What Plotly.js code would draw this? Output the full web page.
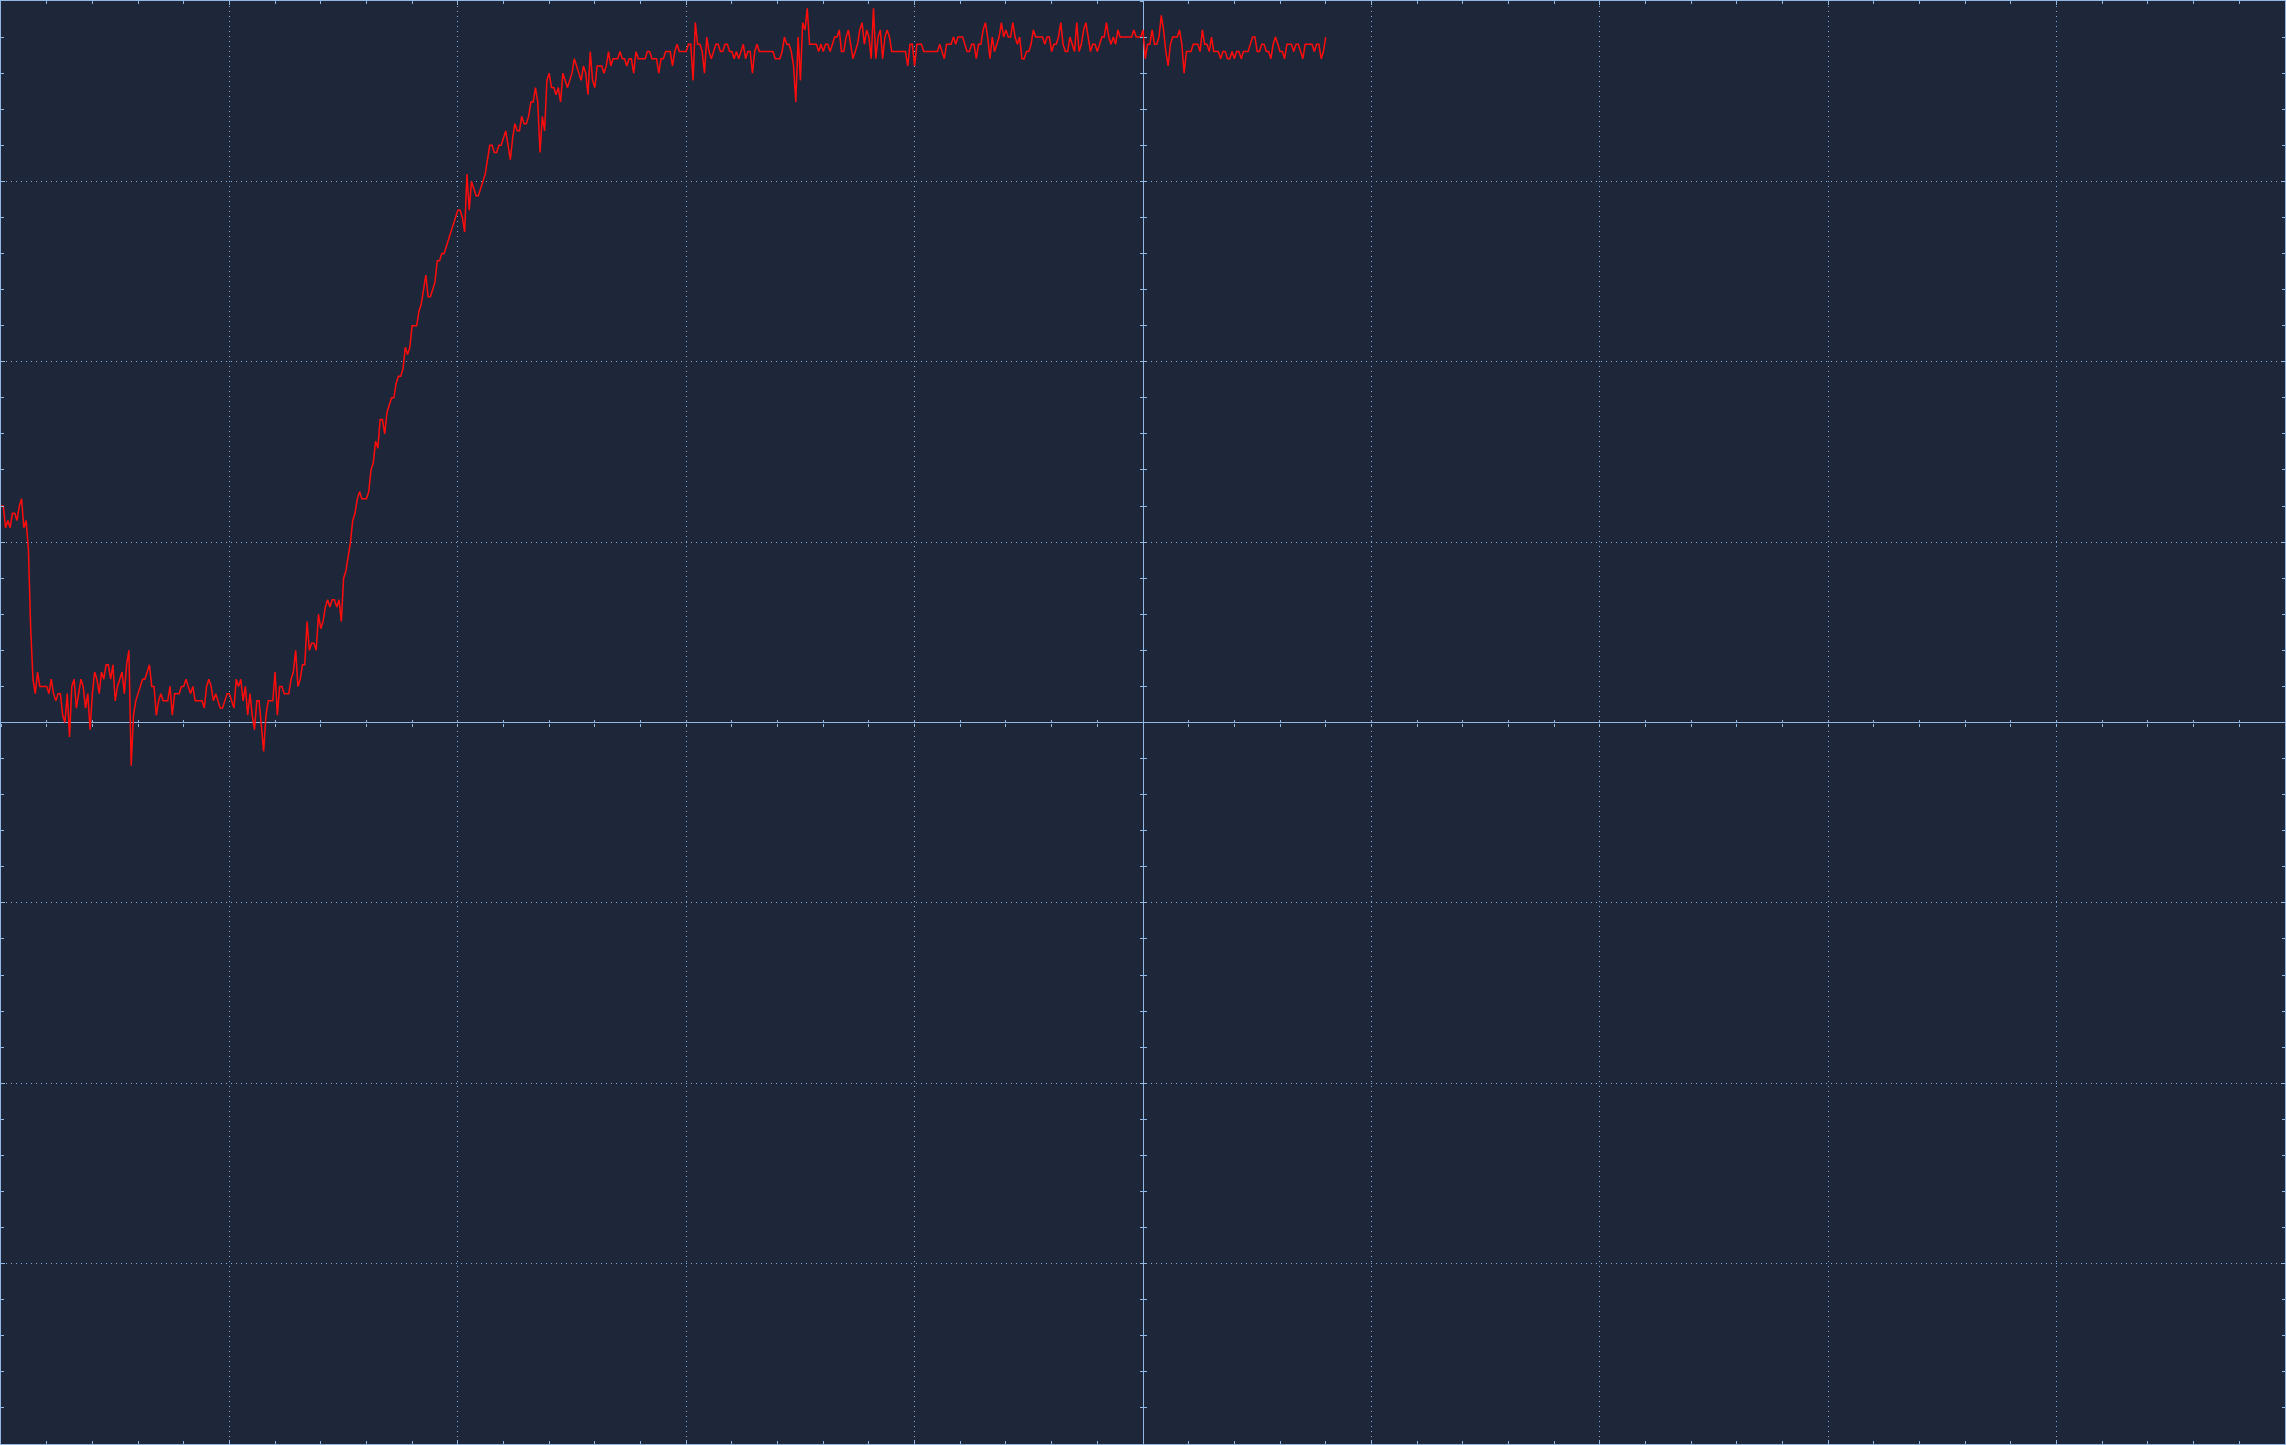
<!DOCTYPE html>
<html>
<head>
<meta charset="utf-8">
<script src="https://cdn.plot.ly/plotly-3.0.1.min.js"></script>
<style>
html,body{margin:0;padding:0;background:#1d2739;overflow:hidden}
#chart{width:2286px;height:1445px}
</style>
</head>
<body>
<div id="chart"></div>
<script>
// ADC sample values (counts, 25 counts per vertical division)
const sampleCounts = [
30,30,27,28,27,29,29,28,30,31,27,28,24,13,6,
4,7,5,5,5,5,4,6,4,3,4,4,1,0,4,
-2,5,6,2,4,6,5,2,4,-1,4,7,6,4,7,
6,8,8,6,8,3,5,6,7,4,8,10,-6,1,3,
4,5,6,6,7,8,5,5,1,3,4,3,3,3,5,
1,4,4,4,5,5,6,5,4,5,3,3,3,3,2,
5,6,5,3,4,3,2,2,3,4,4,3,2,6,5,
6,3,5,1,4,1,-1,3,3,-1,-4,1,3,3,3,
7,1,5,5,4,4,4,6,7,10,5,6,8,8,14,
10,11,11,10,15,13,14,16,17,16,17,17,16,17,14,
20,21,23,25,28,29,31,32,31,31,31,32,35,36,
39,38,42,42,40,43,44,45,45,47,48,48,49,52,51,52,55,55,55,57,58,
60,62,59,59,60,61,64,64,65,65,66,67,68,69,70,
71,71,70,68,76,71,75,74,73,73,74,75,76,78,80,
80,79,79,80,80,81,82,80,78,81,83,82,82,84,83,
83,84,86,86,88,86,79,84,82,89,90,88,88,87,88,
86,90,89,88,89,90,92,91,90,89,91,90,87,93,89,
88,91,91,91,90,91,93,91,92,92,92,93,92,92,91,
92,92,90,93,92,92,92,92,93,93,92,92,92,90,92,
92,93,93,93,91,93,94,93,
93,93,93,94,94,89,97,94,94,93,90,95,93,92,93,
94,94,93,93,94,94,93,93,92,93,92,93,94,92,93,
93,90,93,94,93,93,93,93,93,93,93,92,92,92,93,
95,94,94,93,91,86,95,89,97,96,99,94,94,94,94,
93,94,93,94,94,93,94,95,95,96,93,93,95,96,94,
92,93,94,96,97,94,96,95,92,99,92,95,96,92,95,
96,95,93,93,93,93,93,93,93,91,94,94,91,94,94,
94,93,93,93,93,93,93,93,94,93,92,94,94,94,95,
94,95,95,95,94,93,93,94,94,92,94,94,96,97,95,
92,95,93,94,95,97,95,96,95,95,97,95,94,95,92,
92,93,93,94,96,95,95,95,95,94,95,95,93,94,94,
95,97,94,93,93,95,94,93,97,93,94,96,97,95,93,
94,94,93,94,
95,95,97,95,94,95,94,96,95,95,95,95,95,95,96,
95,95,95,96,92,94,94,96,94,94,95,98,96,93,91,
94,95,95,95,96,94,90,93,93,93,94,94,94,93,96,
94,94,93,95,93,93,93,92,93,93,92,92,93,92,93,
93,92,93,93,93,94,95,95,93,93,94,94,93,93,92,
94,95,94,93,93,92,94,94,94,93,94,94,93,92,94,
94,94,94,93,94,94,92,93,95
];
// time base: first sample at left screen edge, 100 samples per horizontal division
const startDiv = -5;
const sampleStepDiv = 0.01;
const xRangeDiv = [-5, 5];
const yRangeCounts = [-100, 100];
const countsPerDiv = 25;

const timeDiv = sampleCounts.map((_, i) => startDiv + i * sampleStepDiv);

const bg = '#1d2739';
const gridCol = '#86aedc';
const axisCol = '#93b7e3';
const traceCol = '#ff0c0c';

const traces = [
  {type:'scatter', mode:'lines', x: timeDiv, y: sampleCounts,
   line:{color: traceCol, width: 1.5}, hoverinfo:'skip', showlegend:false},
  {type:'scatter', mode:'lines', x:[null], y:[null], xaxis:'x2', yaxis:'y2', showlegend:false, hoverinfo:'skip'},
  {type:'scatter', mode:'lines', x:[null], y:[null], xaxis:'x3', yaxis:'y3', showlegend:false, hoverinfo:'skip'}
];

function edgeAxis(range, dtick, minorDtick) {
  return {
    range: range, domain:[0,1], autorange:false, fixedrange:true,
    tickmode:'linear', tick0:0, dtick: dtick,
    showgrid:true, gridcolor:gridCol, gridwidth:1, griddash:'1px,4px',
    zeroline:true, zerolinecolor:axisCol, zerolinewidth:1,
    showline:true, linecolor:axisCol, linewidth:1, mirror:'allticks',
    ticks:'inside', ticklen:4, tickwidth:1, tickcolor:axisCol,
    showticklabels:false,
    minor:{tickmode:'linear', tick0:0, dtick:minorDtick, ticks:'inside', ticklen:3,
           tickwidth:1, tickcolor:axisCol, showgrid:false}
  };
}
function centerAxis(over, range, dtick, tickDir, side) {
  return {
    overlaying: over, anchor:'free', position:0.5, side: side,
    range: range, autorange:false, fixedrange:true,
    tickmode:'linear', tick0:0, dtick: dtick,
    ticks: tickDir, ticklen:3, tickwidth:1, tickcolor:axisCol,
    showgrid:false, zeroline:false, showline:false, showticklabels:false
  };
}

const layout = {
  width:2286, height:1445,
  margin:{l:1, r:1, t:1, b:1, pad:0},
  paper_bgcolor:bg, plot_bgcolor:bg,
  showlegend:false,
  xaxis: edgeAxis(xRangeDiv, 1, 0.2),
  yaxis: edgeAxis(yRangeCounts, countsPerDiv, countsPerDiv/5),
  xaxis2: centerAxis('x', xRangeDiv, 0.2, 'outside', 'bottom'),
  xaxis3: centerAxis('x', xRangeDiv, 0.2, 'inside', 'bottom'),
  yaxis2: centerAxis('y', yRangeCounts, countsPerDiv/5, 'outside', 'left'),
  yaxis3: centerAxis('y', yRangeCounts, countsPerDiv/5, 'inside', 'left')
};

Plotly.newPlot('chart', traces, layout, {staticPlot:true, displayModeBar:false});
</script>
</body>
</html>
